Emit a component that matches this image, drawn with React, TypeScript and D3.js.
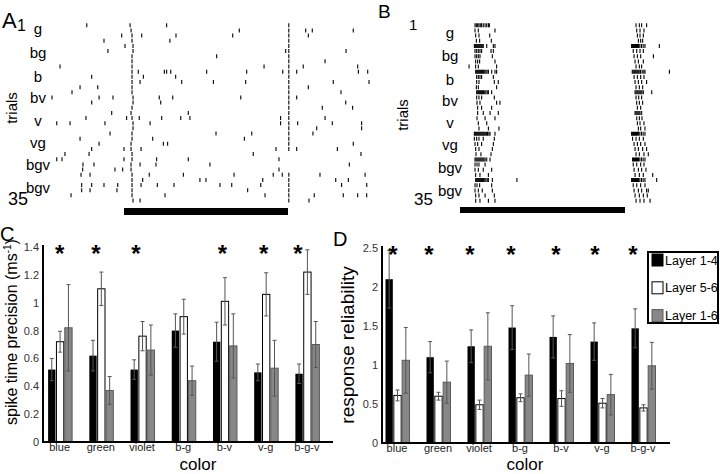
import React from "react";
import * as d3 from "d3";

// ---------- DATA ----------
const categories = ["blue", "green", "violet", "b-g", "b-v", "v-g", "b-g-v"];
const layers = ["Layer 1-4", "Layer 5-6", "Layer 1-6"];

const precL14 = [0.52, 0.62, 0.52, 0.8, 0.72, 0.5, 0.49];
const precL14Err = [0.08, 0.11, 0.07, 0.12, 0.14, 0.06, 0.07];
const precL56 = [0.72, 1.1, 0.76, 0.9, 1.01, 1.06, 1.22];
const precL56Err = [0.075, 0.12, 0.105, 0.125, 0.17, 0.155, 0.16];
const precL16 = [0.82, 0.37, 0.66, 0.44, 0.69, 0.53, 0.7];
const precL16Err = [0.31, 0.1, 0.18, 0.105, 0.23, 0.2, 0.165];
const precSig = [true, true, true, false, true, true, true];
const precTicks = [0, 0.2, 0.4, 0.6, 0.8, 1, 1.2, 1.4];

const relL14 = [2.1, 1.1, 1.24, 1.48, 1.36, 1.3, 1.47];
const relL14Err = [0.37, 0.2, 0.21, 0.28, 0.27, 0.24, 0.25];
const relL56 = [0.61, 0.6, 0.49, 0.58, 0.57, 0.51, 0.45];
const relL56Err = [0.07, 0.05, 0.06, 0.05, 0.1, 0.06, 0.04];
const relL16 = [1.06, 0.78, 1.24, 0.87, 1.02, 0.62, 0.99];
const relL16Err = [0.42, 0.27, 0.43, 0.27, 0.37, 0.26, 0.3];
const relSig = [true, true, true, true, true, true, true];
const relTicks = [0, 0.5, 1, 1.5, 2, 2.5];

const trialLabels = ["g", "bg", "b", "bv", "v", "vg", "bgv", "bgv"];
const trialLabelPosA = [1.7, 6.4, 11, 15.1, 19.6, 23.9, 28.2, 32.6];
const trialLabelPosB = [2.5, 7.0, 11.6, 15.7, 20.0, 24.2, 28.7, 33.2];

// Raster A: spike times (ms re stimulus onset), per trial
const rasterA: number[][] = [
  [-227, 37, 260, 1005],
  [43, 703, 1005, 1108, 1148, 1398],
  [-14, 49, 108, 317, 663, 1005, 1124],
  [-122, 49, 280, 1005],
  [6, 55, 1005],
  [-98, 55, 986, 1005, 1354],
  [49, 565, 1005],
  [49, 1005, 1226],
  [-390, 49, 854, 1005, 1093, 1425],
  [49, 87, 246, 260, 285, 504, 748, 968, 1005, 1053, 1429, 1486],
  [-197, 49, 118, 315, 1005],
  [49, 98, 352, 545, 742, 1005, 1276, 1494],
  [-268, -160, 49, 1005, 1124],
  [-317, 49, 1005, 1323],
  [-439, -152, -67, 55, 215, 297, 712, 1005, 1053],
  [-197, 55, 224, 1005, 1352],
  [49, 1005, 1209, 1394],
  [-75, 43, 392, 1005],
  [-232, 16, 49, 93, 230, 346, 402, 955, 1005, 1226],
  [-410, -329, -116, 55, 159, 955, 1005, 1059, 1270, 1449],
  [55, 1005, 1175, 1449],
  [-85, 49, 561, 779, 1005, 1152],
  [-268, 49, 175, 734, 1005],
  [-152, 43, 240, 266, 1005, 1398],
  [-197, 0, 43, 104, 927, 1005, 1053, 1301],
  [-360, -213, 49, 788, 1445],
  [-410, -378, 0, 49, 199, 392, 945],
  [-250, -183, 43, 98, 195, 524, 1374],
  [-252, -55, -8, 43, 945],
  [-262, -207, 49, 154, 362, 671, 910, 965, 1005, 1195, 1470],
  [49, 114, 463, 500, 846, 1005, 1291, 1368],
  [-258, -197, -122, -38, 49, 104, 203, 305, 585, 657, 834, 1005, 1327, 1480],
  [-258, -207, -43, 49, 754, 1005],
  [-323, 49, 250, 860, 1005, 1160, 1337, 1425, 1480],
  [55, 98, 1005, 1128],
];

// Raster B: onset-response spikes and offset-response spikes per trial
const rasterBOn: number[][] = [
  [91, 99, 107, 115, 123, 131, 141, 152, 162, 172, 178],
  [91, 111, 212],
  [95, 115, 180],
  [99, 119, 190],
  [87, 93, 99, 105, 111, 117, 123, 129, 135, 141, 162, 202, 212],
  [91, 101, 111, 121, 131, 188, 202],
  [91, 101, 111, 121, 196],
  [95, 107, 119, 212],
  [55, 95, 111, 222],
  [95, 101, 107, 113, 119, 125, 131, 137, 143, 150, 157, 164, 172, 192, 212, 222],
  [101, 111, 121, 131, 202],
  [101, 115, 208, 232],
  [99, 111, 222],
  [101, 107, 113, 119, 125, 131, 137, 143, 150, 157, 165, 172, 192],
  [101, 115, 131, 208],
  [103, 121, 222, 242],
  [107, 131, 192],
  [107, 141, 182, 232],
  [103, 152, 212],
  [111, 162],
  [115, 172, 236],
  [87, 93, 99, 105, 111, 117, 123, 129, 135, 141, 147, 153, 160, 167, 175, 182, 212],
  [87, 101, 115, 141, 208],
  [91, 107, 131, 202],
  [95, 115, 196],
  [97, 127, 188],
  [91, 97, 103, 109, 115, 121, 127, 133, 139, 145, 152, 162, 182],
  [91, 103, 115, 152],
  [91, 111, 141, 192],
  [95, 121, 172],
  [95, 101, 107, 113, 119, 125, 131, 137, 143, 150, 157, 165, 172, 196, 345],
  [91, 103, 119, 192],
  [91, 111, 135, 196],
  [95, 115, 152, 208],
  [95, 121, 172, 212],
];
const rasterBOff: number[][] = [
  [1067, 1087, 1101, 1131],
  [1071, 1091, 1115],
  [1075, 1091, 1111],
  [1081, 1095, 1107],
  [1040, 1046, 1052, 1058, 1064, 1070, 1076, 1082, 1090, 1100, 1110, 1121, 1208],
  [1050, 1071, 1091, 1111],
  [1055, 1075, 1095, 1172],
  [1061, 1081, 1111],
  [1067, 1087, 1101],
  [1044, 1050, 1056, 1062, 1068, 1074, 1080, 1086, 1094, 1104, 1114, 1121, 1269],
  [1055, 1075, 1095, 1115],
  [1061, 1081, 1101, 1131],
  [1067, 1087, 1107],
  [1061, 1067, 1073, 1079, 1085, 1091, 1097, 1103, 1111, 1162],
  [1067, 1083, 1101],
  [1071, 1087, 1107],
  [1075, 1095],
  [1061, 1067, 1073, 1079, 1085, 1091, 1101],
  [1071, 1087, 1103],
  [1075, 1091, 1115],
  [1081, 1095, 1121],
  [1040, 1046, 1052, 1058, 1064, 1070, 1076, 1082, 1090, 1100, 1110, 1121],
  [1046, 1067, 1087, 1111],
  [1055, 1075, 1095, 1121],
  [1061, 1081, 1107, 1131],
  [1067, 1087, 1115, 1141],
  [1046, 1052, 1058, 1064, 1070, 1076, 1082, 1090, 1100, 1110, 1121],
  [1050, 1071, 1095, 1115],
  [1055, 1081, 1101, 1127],
  [1061, 1087, 1111, 1168],
  [1040, 1046, 1052, 1058, 1064, 1070, 1076, 1082, 1090, 1100, 1110, 1121, 1192],
  [1050, 1071, 1095, 1121],
  [1055, 1081, 1101, 1131, 1141],
  [1061, 1087, 1111, 1135],
  [1067, 1091, 1115, 1152],
];
const stimulus = [0, 1000];

// ---------- STYLE ----------
const FONT = "'Liberation Sans', Arial, Helvetica, sans-serif";
const layerFill = ["#000000", "#ffffff", "#878787"];
const layerStroke = ["#000000", "#000000", "#5a5a5a"];
const errColor = "#555";

type RasterProps = {
  trials: number[][];
  x: d3.ScaleLinear<number, number>;
  y: d3.ScaleLinear<number, number>;
  keyPrefix: string;
};
function Raster({ trials, x, y, keyPrefix }: RasterProps) {
  const out: React.ReactNode[] = [];
  trials.forEach((spikes, i) => {
    const yc = y(i + 1);
    spikes.forEach((t, j) => {
      const xx = x(t);
      out.push(
        <line key={`${keyPrefix}-${i}-${j}`} x1={xx} x2={xx} y1={yc - 2} y2={yc + 2}
          stroke="#000" strokeWidth={1.1} />
      );
    });
  });
  return <g>{out}</g>;
}

type RasterPanelProps = {
  letter: string; letterX: number; letterY: number; letterSize: number;
  oneX: number; oneY: number; oneSize: number;
  lastX: number; lastY: number; lastSize: number;
  labelX: number; labelPos: number[]; labelDy: number;
  trialsX: number; trialsY: number;
  x: d3.ScaleLinear<number, number>; y: d3.ScaleLinear<number, number>;
  barY: number; barH: number;
  children?: React.ReactNode;
};
function RasterPanel(p: RasterPanelProps) {
  return (
    <g fontFamily={FONT}>
      <text x={p.letterX} y={p.letterY} fontSize={p.letterSize}>{p.letter}</text>
      <text x={p.oneX} y={p.oneY} fontSize={p.oneSize}>1</text>
      <text x={p.lastX} y={p.lastY} fontSize={p.lastSize}>35</text>
      {trialLabels.map((l, i) => (
        <text key={i} x={p.labelX} y={p.y(p.labelPos[i]) + p.labelDy} fontSize={15} textAnchor="middle">{l}</text>
      ))}
      <text transform={`translate(${p.trialsX},${p.trialsY}) rotate(-90)`} fontSize={15} textAnchor="middle">trials</text>
      {p.children}
      <rect x={p.x(stimulus[0])} y={p.barY} width={p.x(stimulus[1]) - p.x(stimulus[0])} height={p.barH} fill="#000" />
    </g>
  );
}

type BarPanelProps = {
  series: number[][]; errs: number[][]; sig: boolean[]; ticks: number[];
  yMax: number; axisX0: number; axisX1: number; yTop: number; yBottom: number;
  bandX0: number; bandX1: number; starDx: number[];
};
function BarPanel(p: BarPanelProps) {
  const y = d3.scaleLinear().domain([0, p.yMax]).range([p.yBottom, p.yTop]);
  const xb = d3.scaleBand<string>().domain(categories).range([p.bandX0, p.bandX1]).padding(0);
  const inner = d3.scaleBand<number>().domain([0, 1, 2]).range([-11.5, 12.5]).paddingInner(0.12);
  const bw = inner.bandwidth();
  const fmt = (v: number) => d3.format("~g")(v);
  return (
    <g fontFamily={FONT}>
      {categories.map((c, ci) => {
        const cx = (xb(c) as number) + xb.bandwidth() / 2;
        return (
          <g key={c}>
            {p.series.map((s, si) => {
              const bx = cx + (inner(si) as number);
              const v = s[ci];
              const e = p.errs[si][ci];
              const mx = bx + bw / 2;
              return (
                <g key={si}>
                  <rect x={bx} y={y(v)} width={bw} height={y(0) - y(v)}
                    fill={layerFill[si]} stroke={layerStroke[si]} strokeWidth={si === 0 ? 0 : 1} />
                  <line x1={mx} x2={mx} y1={y(v - e)} y2={y(v + e)} stroke={errColor} strokeWidth={1} />
                  <line x1={mx - 2} x2={mx + 2} y1={y(v + e)} y2={y(v + e)} stroke={errColor} strokeWidth={1} />
                  <line x1={mx - 2} x2={mx + 2} y1={y(v - e)} y2={y(v - e)} stroke={errColor} strokeWidth={1} />
                </g>
              );
            })}
            {p.sig[ci] && (
              <text x={cx + p.starDx[ci]} y={p.yTop + 15} fontSize={24} fontWeight="bold" textAnchor="middle">*</text>
            )}
            <text x={cx} y={p.yBottom + 9} fontSize={11} textAnchor="middle" fill="#222">{c}</text>
          </g>
        );
      })}
      {p.ticks.map((t) => (
        <text key={t} x={p.axisX0 - 4} y={y(t) + 4} fontSize={11} textAnchor="end" fill="#333">{fmt(t)}</text>
      ))}
      <line x1={p.axisX0} x2={p.axisX0} y1={p.yTop - 2} y2={p.yBottom + 1} stroke="#000" strokeWidth={2} />
      <line x1={p.axisX0 - 1} x2={p.axisX1} y1={p.yBottom} y2={p.yBottom} stroke="#000" strokeWidth={2} />
    </g>
  );
}

export default function App() {
  const xA = d3.scaleLinear().domain(stimulus).range([124, 288]);
  const yA = d3.scaleLinear().domain([1, 35]).range([25.3, 200.5]);
  const xB = d3.scaleLinear().domain(stimulus).range([460, 625]);
  const yB = d3.scaleLinear().domain([1, 35]).range([25.3, 200.7]);

  return (
    <svg width={720} height={474} viewBox="0 0 720 474"
      style={{ position: "absolute", left: 0, top: 0, background: "#fff" }}>
      <rect width={720} height={474} fill="#fff" />
      <RasterPanel letter="A" letterX={2} letterY={28} letterSize={22}
        oneX={17} oneY={31} oneSize={16} lastX={8} lastY={205} lastSize={18}
        labelX={38} labelPos={trialLabelPosA} labelDy={5} trialsX={17} trialsY={108}
        x={xA} y={yA} barY={208} barH={7}>
        <Raster trials={rasterA} x={xA} y={yA} keyPrefix="a" />
      </RasterPanel>
      <RasterPanel letter="B" letterX={378} letterY={18} letterSize={19}
        oneX={409} oneY={30} oneSize={15} lastX={414} lastY={205} lastSize={17}
        labelX={450} labelPos={trialLabelPosB} labelDy={5} trialsX={408} trialsY={115}
        x={xB} y={yB} barY={207} barH={6}>
        <Raster trials={rasterBOn} x={xB} y={yB} keyPrefix="bon" />
        <Raster trials={rasterBOff} x={xB} y={yB} keyPrefix="boff" />
      </RasterPanel>

      {/* Panel C */}
      <text x={0} y={241} fontSize={20} fontFamily={FONT}>C</text>
      <text transform="translate(17,332) rotate(-90)" fontSize={16} fontFamily={FONT} textAnchor="middle">
        spike time precision (ms<tspan fontSize={10} dy={-6}>-1</tspan><tspan dy={6}>)</tspan>
      </text>
      <BarPanel series={[precL14, precL56, precL16]} errs={[precL14Err, precL56Err, precL16Err]}
        sig={precSig} ticks={precTicks} yMax={1.4} axisX0={43} axisX1={333} yTop={247} yBottom={442}
        bandX0={39} bandX1={327.5} starDx={[0, -5, -6, 0, -2, -2, -9]} />
      <text x={198} y={470} fontSize={17} fontFamily={FONT} textAnchor="middle">color</text>

      {/* Panel D */}
      <text x={333} y={246} fontSize={20} fontFamily={FONT}>D</text>
      <text transform="translate(354,345) rotate(-90)" fontSize={19} fontFamily={FONT} textAnchor="middle">response reliability</text>
      <BarPanel series={[relL14, relL56, relL16]} errs={[relL14Err, relL56Err, relL16Err]}
        sig={relSig} ticks={relTicks} yMax={2.5} axisX0={382} axisX1={670} yTop={248} yBottom={443}
        bandX0={376.5} bandX1={663.5} starDx={[-4, -9, -9, -9, -5, -7, -10]} />
      <text x={525} y={470} fontSize={17} fontFamily={FONT} textAnchor="middle">color</text>

      {/* Legend */}
      <g fontFamily={FONT}>
        <rect x={648} y={252} width={70} height={71} fill="#fff" stroke="#000" strokeWidth={2} />
        {layers.map((l, i) => {
          const cy = 260 + i * 27.8;
          return (
            <g key={l}>
              <rect x={652} y={cy - 6} width={11} height={12} fill={layerFill[i]} stroke={layerStroke[i]} strokeWidth={1} />
              <text x={665} y={cy + 4.5} fontSize={12.5}>{l}</text>
            </g>
          );
        })}
      </g>
    </svg>
  );
}
